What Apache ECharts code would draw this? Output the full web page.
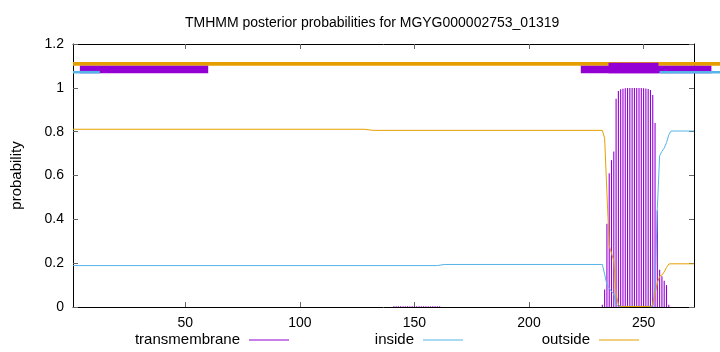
<!DOCTYPE html>
<html><head><meta charset="utf-8">
<script src="https://cdn.jsdelivr.net/npm/echarts@6/dist/echarts.min.js"></script>
<style>html,body{margin:0;padding:0;background:#fff}#c{width:720px;height:352px}</style>
</head><body><div id="c"></div>
<script>
// ---- data ----
const titleText = 'TMHMM posterior probabilities for MGYG000002753_01319';
const xTicks = [50, 100, 150, 200, 250];
const seqLength = 272;

// transmembrane posterior (impulses), position -> probability
const tmPos = [141,142,143,144,145,146,147,148,149,150,151,152,153,154,155,156,157,158,159,160,161,
  232,233,234,235,236,237,238,239,240,241,242,243,244,245,246,247,248,249,250,251,252,253,254,255,256,257,258,259,260,261];
const tmVal = [0.003,0.003,0.003,0.003,0.003,0.003,0.003,0.003,0.003,0.003,0.003,0.003,0.003,0.003,0.003,0.003,0.003,0.003,0.003,0.003,0.003,
  0.01,0.08,0.38,0.61,0.67,0.71,0.95,0.985,0.993,0.996,0.998,0.999,0.999,0.999,0.999,0.999,0.999,0.999,0.998,0.997,0.995,0.99,0.967,0.84,0.44,0.17,0.14,0.12,0.10,0.01];

// inside posterior (line vertices)
const insidePos = [1,160,163,232,233,234,235,236,237,238,239,254,255,256,257,258,259,260,261,262,272];
const insideVal = [0.189,0.189,0.194,0.194,0.15,0.10,0.087,0.07,0.06,0.01,0.003,0.003,0.09,0.45,0.69,0.71,0.725,0.75,0.785,0.803,0.803];

// outside posterior (line vertices)
const outsidePos = [1,128,132,232,233,234,235,236,237,238,239,240,253,254,255,256,257,258,259,260,261,262,272];
const outsideVal = [0.811,0.811,0.806,0.806,0.77,0.52,0.28,0.245,0.21,0.06,0.01,0.002,0.002,0.01,0.06,0.11,0.14,0.146,0.16,0.18,0.196,0.197,0.197];

// predicted topology strip drawn above the curves
const topoKind  = ['outside','transmembrane','transmembrane','tmcore','inside','inside'];
const topoStart = [1, 4, 222.6, 234.7, 1, 257];
const topoEnd   = [284, 60, 279.6, 256.5, 12.7, 284];

// ---- styles ----
const C_TM = '#9400D3', C_IN = '#56B4E9', C_OUT = '#E69F00';
const FONT = 'Liberation Sans';
const topoStyle = {
  outside: {y: 1.1094, h: 3.7, color: C_OUT, z: 1},
  transmembrane: {y: 1.0836, h: 7.6, color: C_TM, z: 2},
  tmcore: {y: 1.0905, h: 10.6, color: C_TM, z: 3},
  inside: {y: 1.0713, h: 2.6, color: C_IN, z: 4}
};

const chart = echarts.init(document.getElementById('c'), null, {renderer: 'canvas'});

const axisCommon = {
  axisLine: {show: true, onZero: false, lineStyle: {color: '#000', width: 1}},
  splitLine: {show: false}
};

const topoData = topoKind.map((k, i) => [topoStart[i], topoEnd[i], i]);
topoData.sort((a, b) => topoStyle[topoKind[a[2]]].z - topoStyle[topoKind[b[2]]].z);

function legendItem(name, color) {
  return {name: name, icon: 'rect', itemStyle: {color: color, borderWidth: 0}};
}
const legendCommon = {top: 332.5, align: 'right', itemWidth: 40, itemHeight: 1, padding: 0,
  textStyle: {fontFamily: FONT, fontSize: 15, color: '#000', padding: [0, 4, 0, 0]}};

chart.setOption({
  animation: false,
  title: {text: titleText, left: 180, top: 11,
    textStyle: {fontFamily: FONT, fontSize: 14, fontWeight: 'normal', color: '#000'}},
  grid: {left: 73, right: 26, top: 44, bottom: 45},
  legend: [
    Object.assign({data: [legendItem('transmembrane', C_TM)], right: 431}, legendCommon),
    Object.assign({data: [legendItem('inside', C_IN)], right: 257}, legendCommon),
    Object.assign({data: [legendItem('outside', C_OUT)], right: 81}, legendCommon)
  ],
  xAxis: [
    Object.assign({type: 'value', min: 1, max: seqLength, position: 'bottom',
      axisTick: {show: true, inside: true, length: 5, lineStyle: {color: '#666'}, customValues: xTicks},
      axisLabel: {show: true, margin: 9, fontFamily: FONT, fontSize: 14, color: '#000', customValues: xTicks}}, axisCommon),
    Object.assign({type: 'value', min: 1, max: seqLength, position: 'top',
      axisTick: {show: true, inside: true, length: 5, lineStyle: {color: '#666'}, customValues: xTicks},
      axisLabel: {show: false}}, axisCommon)
  ],
  yAxis: [
    Object.assign({type: 'value', min: 0, max: 1.2, interval: 0.2, position: 'left',
      name: 'probability', nameLocation: 'middle', nameGap: 49,
      nameTextStyle: {fontFamily: FONT, fontSize: 15, color: '#000'},
      axisTick: {show: true, inside: true, length: 5, lineStyle: {color: '#666'}},
      axisLabel: {show: true, margin: 9, fontFamily: FONT, fontSize: 14, color: '#000'}}, axisCommon),
    Object.assign({type: 'value', min: 0, max: 1.2, interval: 0.2, position: 'right',
      axisTick: {show: true, inside: true, length: 5, lineStyle: {color: '#666'}},
      axisLabel: {show: false}}, axisCommon)
  ],
  series: [
    {
      name: 'transmembrane', type: 'custom', color: C_TM, itemStyle: {color: C_TM},
      data: tmPos.map((p, i) => [p, tmVal[i]]),
      encode: {x: 0, y: 1},
      renderItem: function (params, api) {
        const a = api.coord([api.value(0), 0]);
        const b = api.coord([api.value(0), api.value(1)]);
        return {type: 'line', shape: {x1: a[0], y1: a[1], x2: b[0], y2: b[1]},
          style: {stroke: C_TM, lineWidth: 1.1}};
      },
      z: 2
    },
    {
      name: 'inside', type: 'line', color: C_IN, showSymbol: false, symbol: 'none',
      lineStyle: {color: C_IN, width: 1}, itemStyle: {color: C_IN},
      data: insidePos.map((p, i) => [p, insideVal[i]]), z: 3
    },
    {
      name: 'outside', type: 'line', color: C_OUT, showSymbol: false, symbol: 'none',
      lineStyle: {color: C_OUT, width: 1}, itemStyle: {color: C_OUT},
      data: outsidePos.map((p, i) => [p, outsideVal[i]]), z: 4
    },
    {
      name: 'topology', type: 'custom', clip: false, silent: true,
      data: topoData,
      encode: {x: [0, 1]},
      renderItem: function (params, api) {
        const idx = api.value(2);
        const st = topoStyle[topoKind[idx]];
        const a = api.coord([api.value(0), st.y]);
        const b = api.coord([api.value(1), st.y]);
        return {type: 'rect', shape: {x: a[0], y: a[1] - st.h / 2, width: b[0] - a[0], height: st.h},
          style: {fill: st.color}};
      },
      z: 5
    }
  ]
});
</script></body></html>
